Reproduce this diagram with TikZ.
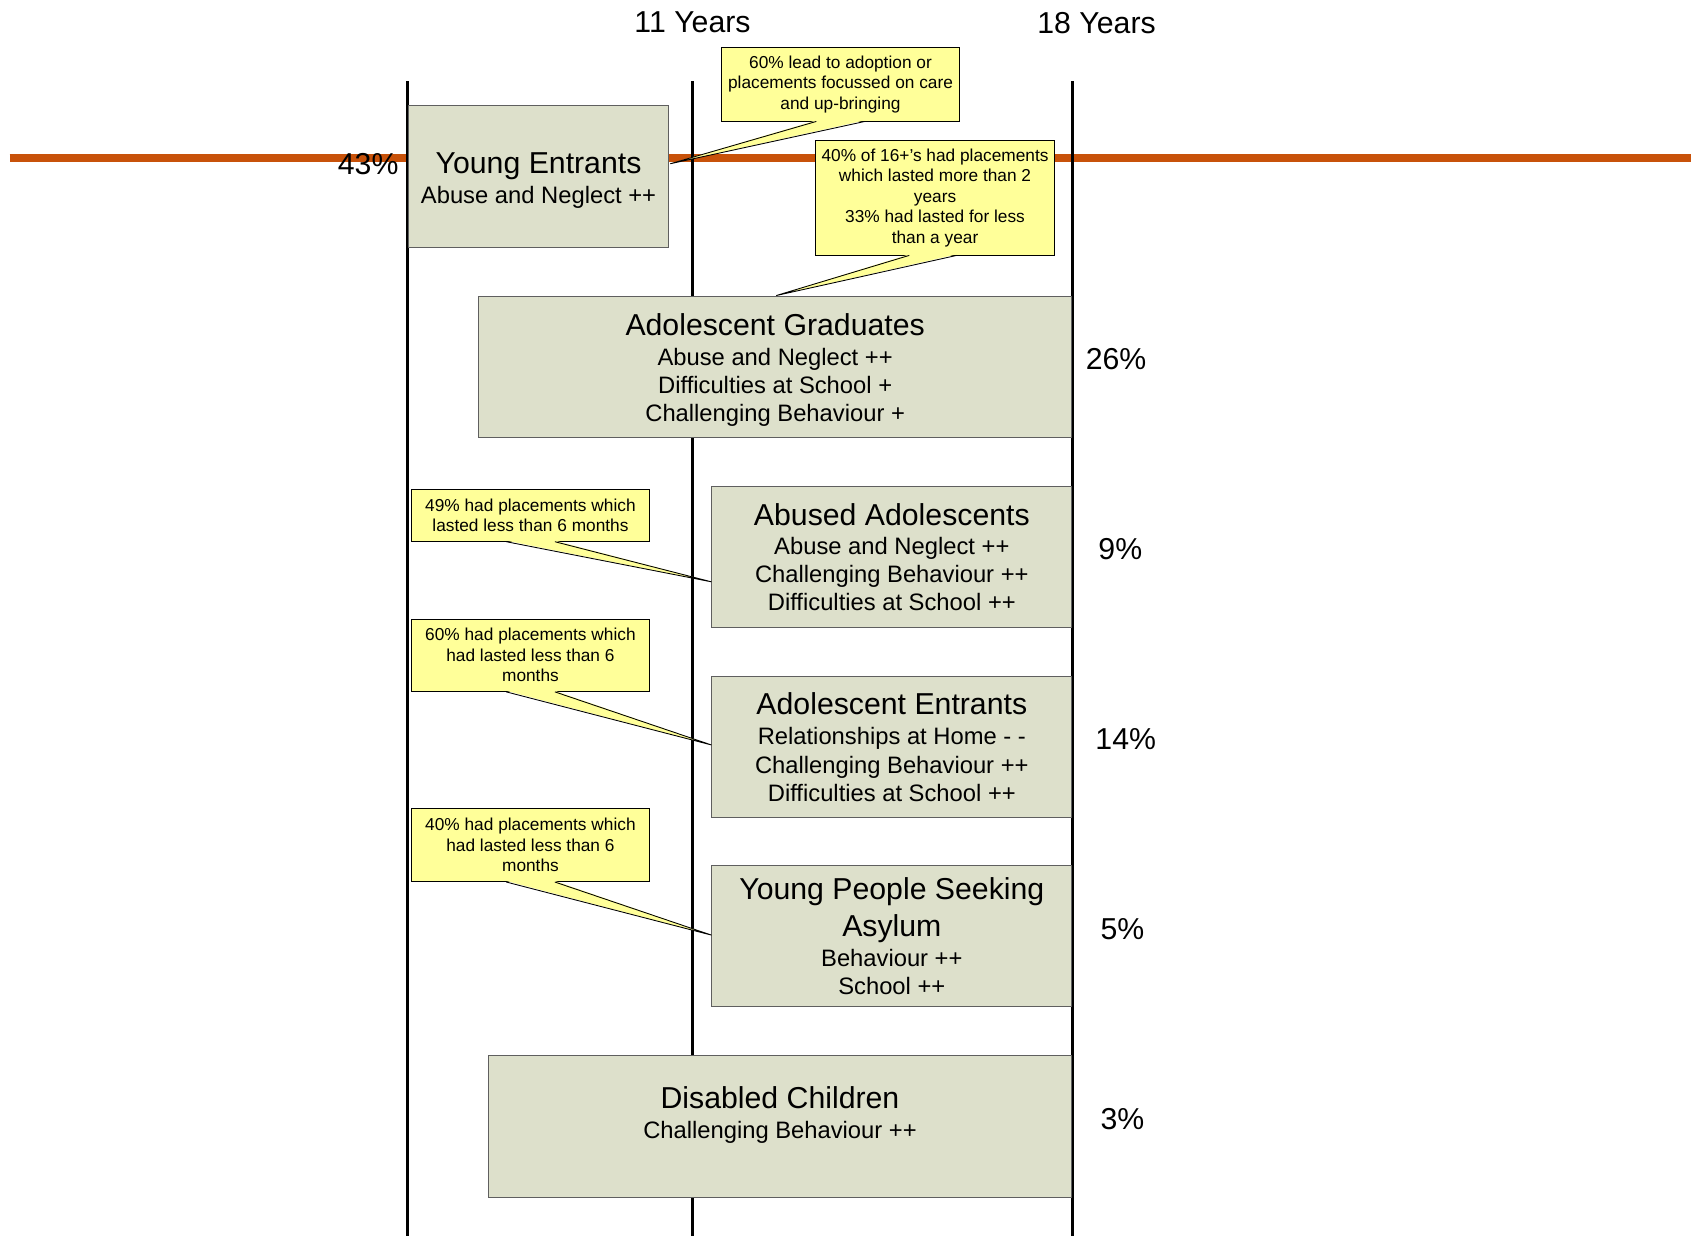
\documentclass[tikz,border=0pt]{standalone}
\usepackage{fontspec}
\setmainfont{Liberation Sans}
\usetikzlibrary{calc}
\definecolor{boxfill}{RGB}{221,224,203}
\definecolor{boxline}{RGB}{95,95,95}
\definecolor{callfill}{RGB}{255,255,153}
\definecolor{orangeline}{RGB}{200,82,10}
\tikzset{
  group/.style={rectangle, fill=boxfill, draw=boxline, line width=0.9pt, inner sep=0pt,
    align=center, font=\fontsize{22}{26}\selectfont},
  callout/.style={rectangle, fill=callfill, draw=black, line width=0.8pt, inner sep=0pt,
    align=center, font=\fontsize{16}{19}\selectfont},
  pct/.style={inner sep=0pt, font=\fontsize{28}{30}\selectfont},
  vline/.style={line width=2.8pt, black},
  pointerfill/.style={fill=callfill},
  pointerline/.style={draw=black, line width=0.8pt, line join=miter},
}
\newcommand{\ttl}[1]{{\fontsize{28}{33}\selectfont #1}}
\newcommand{\topstrut}{\rule{0pt}{26pt}}
\begin{document}
\begin{tikzpicture}[x=1pt,y=-1pt]
\useasboundingbox (0,0) rectangle (1568,1144);

% headers
\node[pct] (h11) at (641,21) {11 Years};
\node[pct] (h18) at (1015,21) {18 Years};

% orange line
\coordinate (oL) at (9,146);
\coordinate (oR) at (1565,146);
\draw[orangeline, line width=7pt] (oL) -- (oR);

% vertical age lines
\coordinate (v1t) at (377,75);  \coordinate (v1b) at (377,1144);
\coordinate (v2t) at (641,75);  \coordinate (v2b) at (641,1144);
\coordinate (v3t) at (993,75);  \coordinate (v3b) at (993,1144);
\draw[vline] (v1t) -- (v1b);
\draw[vline] (v2t) -- (v2b);
\draw[vline] (v3t) -- (v3b);

% group boxes
\node[group, minimum width=241pt, minimum height=131pt] (ye) at (498.5,163.5)
  {\topstrut\ttl{Young Entrants}\\[2pt] Abuse and Neglect ++};
\node[group, minimum width=549pt, minimum height=131pt] (ag) at (717.5,339.5)
  {\topstrut\ttl{Adolescent Graduates}\\[2pt] Abuse and Neglect ++\\ Difficulties at School +\\ Challenging Behaviour +};
\node[group, minimum width=333pt, minimum height=131pt] (ab) at (825.5,515.5)
  {\ttl{Abused Adolescents}\\[1pt] Abuse and Neglect ++\\ Challenging Behaviour ++\\ Difficulties at School ++};
\node[group, minimum width=333pt, minimum height=131pt] (ae) at (825.5,691.5)
  {\ttl{Adolescent Entrants}\\[2pt] Relationships at Home - -\\ Challenging Behaviour ++\\ Difficulties at School ++};
\node[group, minimum width=333pt, minimum height=131pt] (yp) at (825.5,866.5)
  {\ttl{Young People Seeking}\\[7pt] \ttl{Asylum}\\[2pt] Behaviour ++\\ School ++};
\node[group, minimum width=540pt, minimum height=131pt] (dc) at (722,1042.5)
  {\ttl{Disabled Children}\\[2pt] Challenging Behaviour ++\\ \mbox{}};

% percentages
\node[pct, anchor=east] (p43) at (369,152) {43\%};
\node[pct] (p26) at (1033,332) {26\%};
\node[pct] (p9) at (1037,508) {9\%};
\node[pct] (p14) at (1042,684) {14\%};
\node[pct] (p5) at (1039,860) {5\%};
\node[pct] (p3) at (1039,1036) {3\%};

% callouts
\node[callout, minimum width=220pt, minimum height=68pt] (c1) at (778,78)
  {60\% lead to adoption or\\ placements focussed on care\\ and up-bringing};
\node[callout, minimum width=221pt, minimum height=106pt] (c2) at (865.5,183)
  {40\% of 16+’s had placements\\ which lasted more than 2\\ years\\ 33\% had lasted for less\\ than a year};
\node[callout, minimum width=220pt, minimum height=48pt] (c3) at (491,477)
  {49\% had placements which\\ lasted less than 6 months};
\node[callout, minimum width=220pt, minimum height=67pt] (c4) at (491,606.5)
  {60\% had placements which\\ had lasted less than 6\\ months};
\node[callout, minimum width=220pt, minimum height=68pt] (c5) at (491,782)
  {40\% had placements which\\ had lasted less than 6\\ months};

% pointer coordinates
\coordinate (a1) at ($(c1.south west)+(88,-1)$);
\coordinate (b1) at ($(c1.south west)+(133,-1)$);
\coordinate (t1) at ($(ye.north east)+(1,54)$);
\coordinate (a2) at ($(c2.south west)+(87,-1)$);
\coordinate (b2) at ($(c2.south west)+(131,-1)$);
\coordinate (t2) at ($(ag.north)+(1,0)$);
\coordinate (a3) at ($(c3.south west)+(88,-1)$);
\coordinate (b3) at ($(c3.south west)+(133,-1)$);
\coordinate (t3) at ($(ab.north west)+(0,89)$);
\coordinate (a4) at ($(c4.south west)+(88,-1)$);
\coordinate (b4) at ($(c4.south west)+(133,-1)$);
\coordinate (t4) at ($(ae.north west)+(0,64)$);
\coordinate (a5) at ($(c5.south west)+(88,-1)$);
\coordinate (b5) at ($(c5.south west)+(133,-1)$);
\coordinate (t5) at ($(yp.north west)+(0,65)$);

\foreach \i in {1,...,5}{
  \fill[pointerfill] (a\i) -- (t\i) -- (b\i) -- cycle;
  \draw[pointerline] ($(a\i)+(0,1)$) -- (t\i) -- ($(b\i)+(0,1)$);
}
\end{tikzpicture}
\end{document}
